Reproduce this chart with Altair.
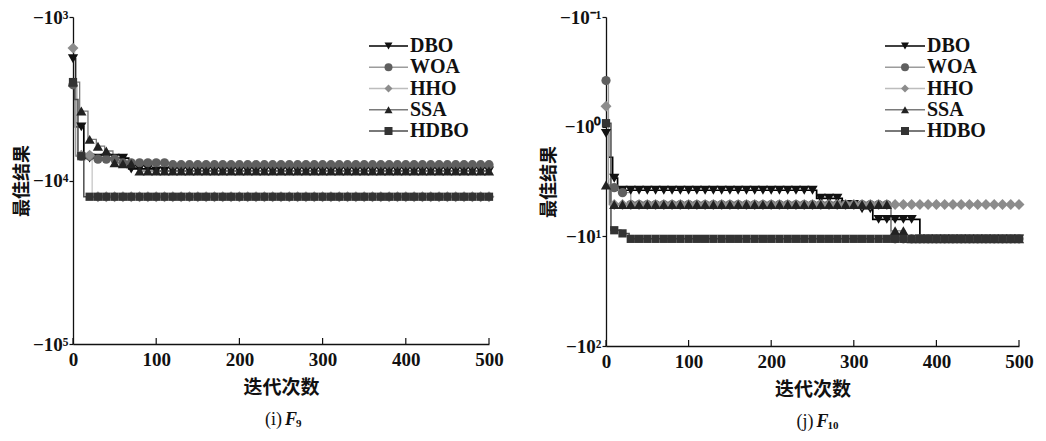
import altair as alt
import pandas as pd

ALGOS = ["DBO", "WOA", "HHO", "SSA", "HDBO"]
SHAPES = ["triangle-down", "circle", "diamond", "triangle-up", "square"]
LINE_COLORS = ["#000000", "#9c9c9c", "#bdbdbd", "#7a7a7a", "#4d4d4d"]
MARK_COLORS = ["#111111", "#5f5f5f", "#8c8c8c", "#222222", "#333333"]
MARK_SIZES = [105, 85, 120, 105, 68]
LINE_WIDTHS = [1.7, 1.3, 1.1, 1.3, 1.5]

X_TICKS = [0, 100, 200, 300, 400, 500]
MARKER_ITERS = list(range(0, 501, 10))

# ---- (i) F9 : best value = -(magnitude) ----
F9_DBO_IT = [0, 3, 13, 67, 100, 500]
F9_DBO_V = [1800, 4700, 7300, 8500, 8750, 8750]
F9_WOA_IT = [0, 3, 30, 60, 120, 500]
F9_WOA_V = [2600, 7100, 7400, 7800, 8000, 8000]
F9_HHO_IT = [0, 2, 5, 23, 500]
F9_HHO_V = [1550, 2700, 7000, 12570, 12570]
F9_SSA_IT = [0, 8, 18, 28, 38, 48, 58, 80, 500]
F9_SSA_V = [2500, 3760, 5600, 6170, 6600, 7800, 7900, 8750, 8750]
F9_HDBO_IT = [0, 2, 6, 13, 500]
F9_HDBO_V = [2500, 3200, 7100, 12570, 12570]
F9_Y_TICKS = [1000, 10000, 100000]
F9_Y_LABELS = ["−10³", "−10⁴", "−10⁵"]

# ---- (j) F10 ----
F10_DBO_IT = [0, 3, 8, 14, 255, 286, 310, 323, 380, 500]
F10_DBO_V = [1.15, 1.9, 2.95, 3.8, 4.5, 5.13, 5.6, 7.0, 10.54, 10.54]
F10_WOA_IT = [0, 3, 15, 30, 345, 500]
F10_WOA_V = [0.38, 3.6, 4.0, 5.13, 10.54, 10.54]
F10_HHO_IT = [0, 2, 5, 500]
F10_HHO_V = [0.65, 3.0, 5.13, 5.13]
F10_SSA_IT = [0, 4, 345, 362, 500]
F10_SSA_V = [3.4, 5.13, 8.9, 10.54, 10.54]
F10_HDBO_IT = [0, 6, 18, 28, 500]
F10_HDBO_V = [0.93, 8.8, 9.4, 10.54, 10.54]
F10_Y_TICKS = [0.1, 1, 10, 100]
F10_Y_LABELS = ["−10⁻¹", "−10⁰", "−10¹", "−10²"]

SERIF = "Liberation Serif"
CJK = "Noto Sans CJK SC"


def step_lookup(its, vals, t):
    v = vals[0]
    for i, x in zip(its, vals):
        if i <= t:
            v = x
    return v


def make_panel(series, ydomain, yticks, ylabels, tag, sub, W, H, leg):
    rows, marks = [], []
    for name in ALGOS:
        its, vals = series[name]
        for i, v in zip(its, vals):
            rows.append({"algo": name, "it": i, "v": v})
        for t in MARKER_ITERS:
            marks.append({"algo": name, "it": t, "v": step_lookup(its, vals, t)})
    line_df = pd.DataFrame(rows)
    mark_df = pd.DataFrame(marks)

    expr = "''"
    for val, lab in zip(reversed(yticks), reversed(ylabels)):
        expr = f"(abs(datum.value - {val}) < {val}*1e-6) ? '{lab}' : " + expr
    xscale = alt.Scale(domain=[0, 500], nice=False, zero=False)
    yscale = alt.Scale(type="log", domain=ydomain, reverse=True, nice=False)
    xaxis = alt.Axis(values=X_TICKS, ticks=False, labelPadding=6, grid=False,
                     labelFont=SERIF, labelFontSize=19, labelFontWeight="bold",
                     labelColor="#111", domainColor="#111", domainWidth=1.3,
                     labelFlush=False, title="迭代次数", titleFont=CJK,
                     titleFontSize=19, titleFontWeight="bold", titleColor="#111",
                     titlePadding=9)
    yaxis = alt.Axis(values=yticks, labelExpr=expr, tickSize=4, tickColor="#111",
                     tickWidth=1.2, labelPadding=1, grid=False, labelFont=SERIF,
                     labelFontSize=19, labelFontWeight="bold", labelColor="#111",
                     domainColor="#111", domainWidth=1.3, labelFlush=False,
                     title="最佳结果", titleFont=CJK, titleFontSize=18,
                     titleFontWeight="bold", titleColor="#111", titlePadding=1)
    X = alt.X("it:Q", scale=xscale, axis=xaxis)
    Y = alt.Y("v:Q", scale=yscale, axis=yaxis)

    data_layers = []
    for k, name in enumerate(ALGOS):
        data_layers.append(
            alt.Chart(line_df).transform_filter(alt.datum.algo == name)
            .mark_line(interpolate="step-after", color=LINE_COLORS[k],
                       strokeWidth=LINE_WIDTHS[k])
            .encode(x=X, y=Y))
    for k, name in enumerate(ALGOS):
        data_layers.append(
            alt.Chart(mark_df).transform_filter(alt.datum.algo == name)
            .mark_point(filled=True, shape=SHAPES[k], size=MARK_SIZES[k],
                        color=MARK_COLORS[k], opacity=1, strokeWidth=0)
            .encode(x=X, y=Y))
    tick_df = pd.DataFrame({"it": X_TICKS})
    data_layers.append(
        alt.Chart(tick_df).mark_rule(color="#111", strokeWidth=1.2)
        .encode(x=X, y=alt.value(H - 6), y2=alt.value(H)))
    data_chart = alt.layer(*data_layers)

    leg_df = pd.DataFrame({"name": ALGOS})
    LY = alt.Y("name:N", scale=alt.Scale(type="point", domain=ALGOS,
                                         range=[leg["y0"], leg["y1"]], padding=0),
               axis=None)
    leg_rule = alt.Chart(leg_df).mark_rule(strokeWidth=1.4).encode(
        x=alt.value(leg["x1"]), x2=alt.value(leg["x2"]), y=LY,
        color=alt.Color("name:N", scale=alt.Scale(domain=ALGOS, range=LINE_COLORS),
                        legend=None))
    leg_pt = alt.Chart(leg_df).mark_point(filled=True, opacity=1, size=64,
                                          strokeWidth=0).encode(
        x=alt.value((leg["x1"] + leg["x2"]) / 2), y=LY,
        fill=alt.Fill("name:N", scale=alt.Scale(domain=ALGOS, range=MARK_COLORS),
                      legend=None),
        shape=alt.Shape("name:N", scale=alt.Scale(domain=ALGOS, range=SHAPES),
                        legend=None))
    leg_txt = alt.Chart(leg_df).mark_text(align="left", baseline="middle",
                                          font=SERIF, fontSize=20,
                                          fontWeight="bold", color="#111").encode(
        x=alt.value(leg["x2"] + 2), y=LY, text="name:N")
    one = pd.DataFrame({"a": [0]})
    sub1 = alt.Chart(one).mark_text(text=tag, align="right", baseline="alphabetic",
                                    font=SERIF, fontSize=18, color="#111").encode(
        x=alt.value(W / 2 + 1), y=alt.value(H + 81))
    sub2 = alt.Chart(one).mark_text(text="F", align="left", baseline="alphabetic",
                                    font=SERIF, fontSize=18, fontStyle="italic",
                                    fontWeight="bold", color="#111").encode(
        x=alt.value(W / 2 + 4), y=alt.value(H + 81))
    sub3 = alt.Chart(one).mark_text(text=sub, align="left", baseline="alphabetic",
                                    font=SERIF, fontSize=11, fontWeight="bold",
                                    color="#111").encode(
        x=alt.value(W / 2 + 15), y=alt.value(H + 83))
    leg_chart = alt.layer(leg_rule, leg_pt, leg_txt, sub1, sub2, sub3)

    return alt.layer(data_chart, leg_chart).resolve_scale(y="independent") \
        .properties(width=W, height=H)


f9 = {"DBO": (F9_DBO_IT, F9_DBO_V), "WOA": (F9_WOA_IT, F9_WOA_V),
      "HHO": (F9_HHO_IT, F9_HHO_V), "SSA": (F9_SSA_IT, F9_SSA_V),
      "HDBO": (F9_HDBO_IT, F9_HDBO_V)}
f10 = {"DBO": (F10_DBO_IT, F10_DBO_V), "WOA": (F10_WOA_IT, F10_WOA_V),
       "HHO": (F10_HHO_IT, F10_HHO_V), "SSA": (F10_SSA_IT, F10_SSA_V),
       "HDBO": (F10_HDBO_IT, F10_HDBO_V)}

left = make_panel(f9, [1000, 100000], F9_Y_TICKS, F9_Y_LABELS, "(i)", "9",
                  416, 327, {"x1": 296, "x2": 335, "y0": 29, "y1": 114})
right = make_panel(f10, [0.1, 100], F10_Y_TICKS, F10_Y_LABELS, "(j)", "10",
                   413, 329, {"x1": 279, "x2": 319, "y0": 29, "y1": 114})

chart = alt.hconcat(left, right, spacing=36).properties(
    padding={"left": 5, "top": 0, "right": 0, "bottom": 0},
    background="white").configure_view(stroke=None)

chart.save("out.html", embed_options={"renderer": "svg", "actions": False})
